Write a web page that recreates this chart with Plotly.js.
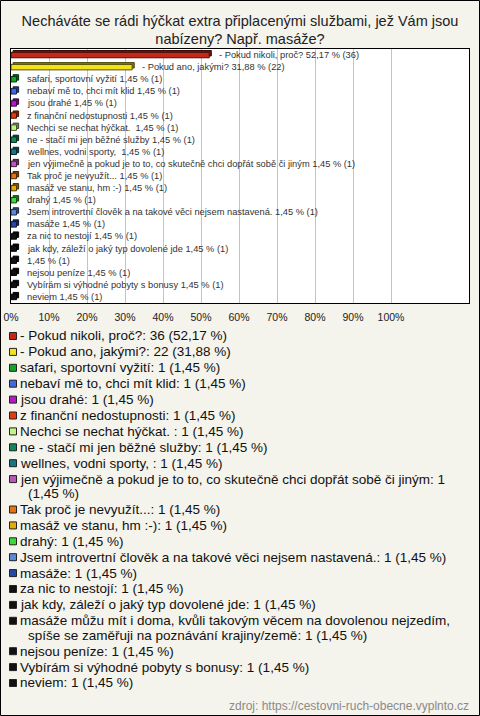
<!DOCTYPE html>
<html>
<head>
<meta charset="utf-8">
<script src="https://cdn.plot.ly/plotly-3.0.1.min.js"></script>
<style>
html,body{margin:0;padding:0;background:#f4f3ec;}
#chart{width:480px;height:716px;}
</style>
</head>
<body>
<div id="chart"></div>
<script>
// ---- data ----
const titleText = "Necháváte se rádi hýčkat extra připlacenými službami, jež Vám jsou<br>nabízeny? Např. masáže?";
const names = [
  "- Pokud nikoli, proč?",
  "- Pokud ano, jakými?",
  "safari, sportovní vyžití",
  "nebaví mě to, chci mít klid",
  "jsou drahé",
  "z finanční nedostupnosti",
  "Nechci se nechat hýčkat. ",
  "ne - stačí mi jen běžné služby",
  "wellnes, vodni sporty, ",
  "jen výjimečně a pokud je to to, co skutečně chci dopřát sobě či jiným",
  "Tak proč je nevyužít...",
  "masáž ve stanu, hm :-)",
  "drahý",
  "Jsem introvertní člověk a na takové věci nejsem nastavená.",
  "masáže",
  "za nic to nestojí",
  "jak kdy, záleží o jaký typ dovolené jde",
  "masáže můžu mít i doma, kvůli takovým věcem na dovolenou nejzedím, spíše se zaměřuji na poznávání krajiny/země",
  "nejsou peníze",
  "Vybírám si výhodné pobyty s bonusy",
  "neviem"
];
const counts = [36, 22, 1, 1, 1, 1, 1, 1, 1, 1, 1, 1, 1, 1, 1, 1, 1, 1, 1, 1, 1];
const percents = [52.17, 31.88, 1.45, 1.45, 1.45, 1.45, 1.45, 1.45, 1.45, 1.45, 1.45, 1.45, 1.45, 1.45, 1.45, 1.45, 1.45, 1.45, 1.45, 1.45, 1.45];
const colors = [
  "#c42818", "#f2e21a", "#12a52a", "#4068e0", "#b418c4", "#e23c12",
  "#c4f28a", "#12885a", "#167484", "#b858b8", "#e27412", "#e2aa0a",
  "#3cd83c", "#5c88d8", "#2448a8", "#111111", "#111111", "#111111",
  "#111111", "#111111", "#111111"
];
const tickValues = [0, 10, 20, 30, 40, 50, 60, 70, 80, 90, 100];
const sourceText = "zdroj: https://cestovni-ruch-obecne.vyplnto.cz";

// ---- helpers ----
const W = 480, H = 716;
const px = v => v / W;
const py = v => 1 - v / H;
const fmt = p => p.toFixed(2).replace('.', ',');
function darken(hex, f) {
  const n = parseInt(hex.slice(1), 16);
  const r = Math.round(((n >> 16) & 255) * f), g = Math.round(((n >> 8) & 255) * f), b = Math.round((n & 255) * f);
  return 'rgb(' + r + ',' + g + ',' + b + ')';
}
const FONT = "'Liberation Sans', Arial, sans-serif";
const LEGEND_SIZE = 13.5;
const idx = names.map((_, i) => i);

// bar traces (depth face behind + front face)
const depthTrace = {
  type: 'bar', orientation: 'h', x: percents, y: idx, base: 0.55,
  width: 0.45, offset: -0.225 - 0.15,
  marker: {color: colors.map(c => darken(c, 0.55)), line: {color: colors.map(c => darken(c, 0.3)), width: 1}},
  hoverinfo: 'none'
};
const frontTrace = {
  type: 'bar', orientation: 'h', x: percents, y: idx,
  width: 0.45, offset: -0.225,
  marker: {color: colors, line: {color: colors.map(c => darken(c, 0.35)), width: 1}},
  hoverinfo: 'none'
};

const annotations = [];
const shapes = [];

// labels beside bars
names.forEach((n, i) => {
  const nm = n.length > 100 ? '' : n + ' ';
  annotations.push({
    xref: 'x', yref: 'y', x: percents[i], y: i, xanchor: 'left', yanchor: 'middle',
    xshift: 8, showarrow: false, text: nm + fmt(percents[i]) + ' % (' + counts[i] + ')',
    font: {size: 9.3, color: '#333', family: FONT}
  });
});

// custom legend
const ctx = document.createElement('canvas').getContext('2d');
ctx.font = LEGEND_SIZE + "px 'Liberation Sans', Arial, sans-serif";
function wrap(text, maxW) {
  const words = text.split(' ');
  const lines = [];
  let cur = '';
  words.forEach(w => {
    const t = cur ? cur + ' ' + w : w;
    if (cur && ctx.measureText(t).width > maxW) { lines.push(cur); cur = w; }
    else cur = t;
  });
  if (cur) lines.push(cur);
  return lines;
}
let yPos = 336;
names.forEach((n, i) => {
  const txt = n + ': ' + counts[i] + ' (' + fmt(percents[i]) + ' %)';
  const lines = wrap(txt, 446);
  shapes.push({
    type: 'rect', xref: 'paper', yref: 'paper',
    x0: px(9.5), x1: px(16.5), y0: py(yPos + 3.5), y1: py(yPos - 3.5),
    fillcolor: colors[i], line: {color: '#222', width: 1}
  });
  lines.forEach((ln, j) => {
    annotations.push({
      xref: 'paper', yref: 'paper', x: px(j === 0 ? 18 : 26), y: py(yPos + j * 14.5),
      xanchor: 'left', yanchor: 'middle', showarrow: false, text: ln,
      font: {size: LEGEND_SIZE, color: '#111', family: FONT}
    });
  });
  yPos += 15.9 + (lines.length - 1) * 14.5;
});

// source
annotations.push({
  xref: 'paper', yref: 'paper', x: px(471), y: py(706), xanchor: 'right', yanchor: 'middle',
  showarrow: false, text: sourceText, font: {size: 12, color: '#8a8a8a', family: FONT}
});

// outer border
shapes.push({
  type: 'rect', xref: 'paper', yref: 'paper', x0: px(0.5), x1: px(479.5), y0: py(715.5), y1: py(0.5),
  line: {color: '#000', width: 1}, fillcolor: 'rgba(0,0,0,0)'
});

const layout = {
  width: W, height: H,
  margin: {l: 0, r: 0, t: 0, b: 0},
  paper_bgcolor: '#f4f3ec', plot_bgcolor: '#ffffff',
  font: {family: FONT, color: '#222'},
  title: {text: titleText, font: {size: 14.5, color: '#222', family: FONT},
          x: 0.5, xanchor: 'center', xref: 'paper', y: py(25.5), yanchor: 'middle', yref: 'container'},
  showlegend: false,
  barmode: 'overlay',
  xaxis: {
    domain: [px(11), px(469)], range: [0, 458 / 3.8],
    tickvals: tickValues, ticktext: tickValues.map(v => v + '%'),
    showgrid: true, gridcolor: '#c4c4c4', gridwidth: 1, zeroline: false,
    showline: true, mirror: true, linecolor: '#000', linewidth: 1, ticks: '',
    ticklabelstandoff: 4,
    tickfont: {size: 10.5, color: '#222', family: FONT}, fixedrange: true
  },
  yaxis: {
    domain: [py(303), py(49)], range: [20.5, -0.5],
    showticklabels: false, showgrid: false, zeroline: false,
    showline: true, mirror: true, linecolor: '#000', linewidth: 1, ticks: '', fixedrange: true
  },
  annotations: annotations,
  shapes: shapes
};

Plotly.newPlot('chart', [depthTrace, frontTrace], layout, {staticPlot: true, displayModeBar: false});
</script>
</body>
</html>
